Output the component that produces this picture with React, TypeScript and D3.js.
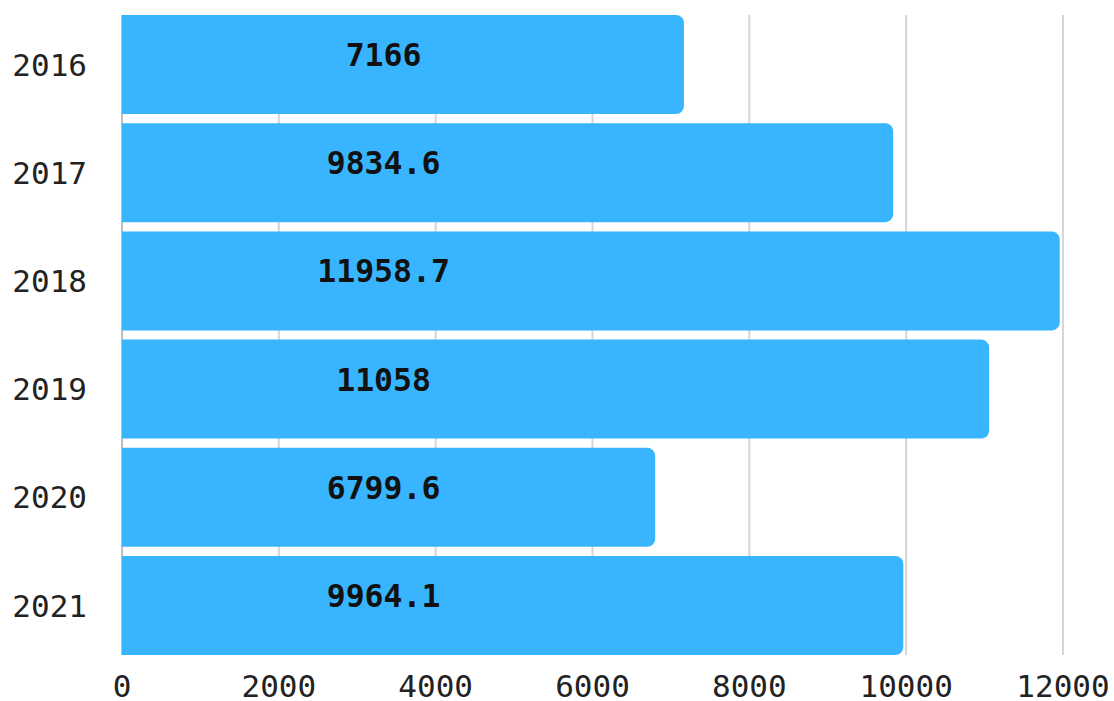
import React from "react";
import * as d3 from "d3";

const years = ["2016", "2017", "2018", "2019", "2020", "2021"];
const values = [7166, 9834.6, 11958.7, 11058, 6799.6, 9964.1];
const valueLabels = ["7166", "9834.6", "11958.7", "11058", "6799.6", "9964.1"];
const xTicks = [0, 2000, 4000, 6000, 8000, 10000, 12000];

const W = 1114;
const H = 701;
const M = { top: 15, right: 51, bottom: 46, left: 122 };
const BAR = "#38b5fe";
const FONT = "'DejaVu Sans Mono', 'Liberation Mono', monospace";

function barPath(x0: number, x1: number, y0: number, h: number, r: number) {
  const p = d3.path();
  const rr = Math.min(r, (x1 - x0) / 2, h / 2);
  p.moveTo(x0, y0);
  p.lineTo(x1 - rr, y0);
  p.arcTo(x1, y0, x1, y0 + rr, rr);
  p.lineTo(x1, y0 + h - rr);
  p.arcTo(x1, y0 + h, x1 - rr, y0 + h, rr);
  p.lineTo(x0, y0 + h);
  p.closePath();
  return p.toString();
}

export default function App() {
  const x = d3.scaleLinear().domain([0, 12000]).range([M.left, W - M.right]);
  const y = d3
    .scaleBand<string>()
    .domain(years)
    .range([M.top, H - M.bottom])
    .paddingInner(0.085)
    .paddingOuter(0);
  const bw = y.bandwidth();
  const labelX = M.left + (W - M.right - M.left) * 0.278;

  return (
    <svg
      width={W}
      height={H}
      style={{ position: "absolute", left: 0, top: 0, background: "#fff" }}
    >
      {xTicks.map((t) => (
        <line
          key={"g" + t}
          x1={x(t)}
          x2={x(t)}
          y1={M.top}
          y2={H - M.bottom}
          stroke={t === 0 ? "#a8a8a8" : "#d6d6d6"}
          strokeWidth={t === 0 ? 1.5 : 2}
        />
      ))}
      {years.map((yr, i) => (
        <path
          key={"b" + yr}
          d={barPath(x(0), x(values[i]), y(yr)!, bw, 8)}
          fill={BAR}
        />
      ))}
      {years.map((yr, i) => (
        <text
          key={"l" + yr}
          x={labelX}
          y={y(yr)! + bw / 2 + 1.5}
          textAnchor="middle"
          fontFamily={FONT}
          fontWeight="bold"
          fontSize={31.5}
          fill="#111"
        >
          {valueLabels[i]}
        </text>
      ))}
      {years.map((yr) => (
        <text
          key={"y" + yr}
          x={M.left - 35}
          y={y(yr)! + bw / 2}
          dy="0.36em"
          textAnchor="end"
          fontFamily={FONT}
          fontSize={31}
          fill="#222"
        >
          {yr}
        </text>
      ))}
      {xTicks.map((t) => (
        <text
          key={"x" + t}
          x={x(t)}
          y={H - 4}
          textAnchor="middle"
          fontFamily={FONT}
          fontSize={31}
          fill="#222"
        >
          {String(t)}
        </text>
      ))}
    </svg>
  );
}
